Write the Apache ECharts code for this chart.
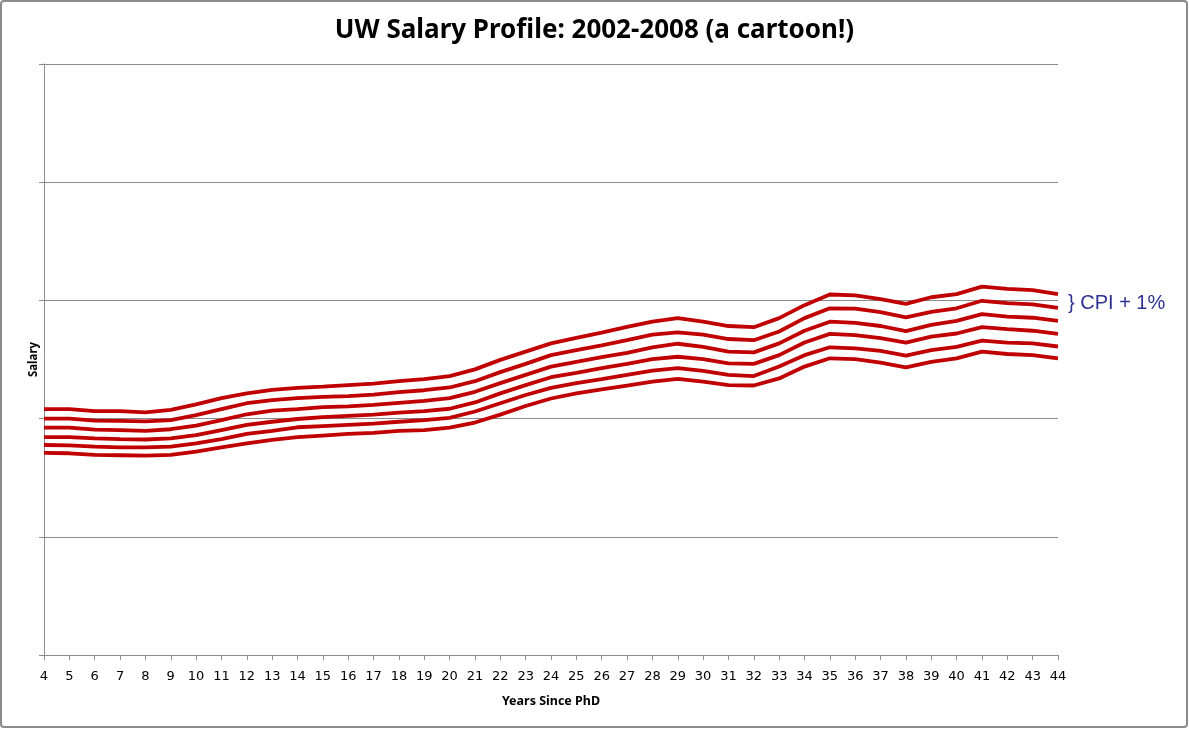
<!DOCTYPE html>
<html>
<head>
<meta charset="utf-8">
<script src="https://cdn.jsdelivr.net/npm/echarts@6/dist/echarts.min.js"></script>
<style>
  html, body { margin: 0; padding: 0; background: #fff; }
  #chart { width: 1189px; height: 729px; }
</style>
</head>
<body>
<div id="chart"></div>
<script>
// years since PhD (x axis)
const years = [];
for (let y = 4; y <= 44; y++) years.push(y);

// salary profiles, thousands (top line first)
const line1 = [62.4, 62.4, 61.9, 61.9, 61.6, 62.2, 63.6, 65.2, 66.4, 67.3, 67.8, 68.1, 68.5, 68.9, 69.5, 70.0, 70.8, 72.5, 74.9, 77.0, 79.1,
  80.5, 81.8, 83.3, 84.6, 85.5, 84.6, 83.5, 83.2, 85.5, 88.8, 91.5, 91.3, 90.3, 89.1, 90.8, 91.6, 93.5, 92.9, 92.6, 91.6];
const line2 = [60.0, 60.0, 59.5, 59.4, 59.3, 59.6, 60.9, 62.4, 63.9, 64.7, 65.2, 65.5, 65.7, 66.1, 66.7, 67.2, 67.9, 69.5, 71.8, 73.9, 76.1,
  77.4, 78.6, 79.9, 81.3, 81.9, 81.3, 80.2, 79.9, 82.1, 85.5, 88.0, 87.9, 87.0, 85.7, 87.1, 88.0, 89.9, 89.3, 89.0, 88.1];
const line3 = [57.7, 57.7, 57.2, 57.1, 56.9, 57.3, 58.2, 59.6, 61.1, 62.0, 62.4, 62.9, 63.1, 63.5, 64.0, 64.5, 65.2, 66.8, 69.0, 71.1, 73.2,
  74.4, 75.6, 76.7, 78.1, 79.0, 78.2, 77.0, 76.8, 79.1, 82.3, 84.6, 84.3, 83.5, 82.2, 83.8, 84.8, 86.5, 85.9, 85.6, 84.8];
const line4 = [55.3, 55.3, 55.0, 54.8, 54.7, 55.0, 55.8, 57.1, 58.4, 59.2, 59.9, 60.4, 60.7, 61.0, 61.5, 61.9, 62.5, 64.1, 66.4, 68.5, 70.5,
  71.6, 72.8, 73.9, 75.1, 75.7, 75.1, 74.0, 73.9, 76.1, 79.3, 81.5, 81.2, 80.4, 79.3, 80.8, 81.6, 83.2, 82.7, 82.3, 81.5];
const line5 = [53.3, 53.2, 52.9, 52.7, 52.7, 52.9, 53.7, 54.8, 56.1, 56.9, 57.8, 58.1, 58.4, 58.7, 59.2, 59.6, 60.2, 61.8, 63.9, 66.0, 67.8,
  69.0, 70.0, 71.1, 72.2, 72.8, 72.1, 71.1, 70.8, 73.2, 76.1, 78.1, 77.8, 77.2, 76.0, 77.4, 78.2, 79.8, 79.3, 79.1, 78.3];
const line6 = [51.3, 51.2, 50.8, 50.7, 50.6, 50.8, 51.6, 52.7, 53.7, 54.6, 55.3, 55.7, 56.1, 56.4, 56.9, 57.1, 57.7, 59.0, 61.0, 63.2, 65.1,
  66.4, 67.4, 68.4, 69.4, 70.1, 69.4, 68.5, 68.4, 70.2, 73.2, 75.3, 75.1, 74.2, 73.0, 74.4, 75.3, 77.0, 76.4, 76.1, 75.3];

const profiles = [line1, line2, line3, line4, line5, line6];

const chart = echarts.init(document.getElementById('chart'));

const grey = '#8c8c8c';

const option = {
  backgroundColor: '#fff',
  animation: false,
  title: {
    text: 'UW Salary Profile: 2002-2008 (a cartoon!)',
    left: 'center',
    top: 13,
    textStyle: { fontFamily: 'Noto Sans', fontWeight: 'bold', fontSize: 26, color: '#000' }
  },
  grid: { left: 44, right: 131, top: 64, bottom: 74 },
  xAxis: {
    type: 'value',
    min: 4,
    max: 44,
    interval: 1,
    name: 'Years Since PhD',
    nameLocation: 'middle',
    nameGap: 40,
    nameTextStyle: { fontFamily: 'Noto Sans', fontWeight: 'bold', fontSize: 12.5, color: '#000' },
    axisLine: { lineStyle: { color: grey, width: 1 } },
    axisTick: { show: true, length: 5, lineStyle: { color: grey } },
    axisLabel: { fontFamily: 'DejaVu Sans', fontSize: 13, color: '#000', margin: 15 },
    splitLine: { show: false }
  },
  yAxis: {
    type: 'value',
    min: 0,
    max: 150,
    interval: 30,
    name: 'Salary',
    nameLocation: 'middle',
    nameGap: 4,
    nameTextStyle: { fontFamily: 'Noto Sans', fontWeight: 'bold', fontSize: 11.5, color: '#000' },
    axisLine: { show: true, lineStyle: { color: grey, width: 1 } },
    axisTick: { show: true, length: 5, lineStyle: { color: grey } },
    axisLabel: { show: false },
    splitLine: { lineStyle: { color: grey, width: 1 } }
  },
  graphic: [
    {
      type: 'rect',
      shape: { x: 1, y: 1, width: 1186, height: 726, r: 3 },
      style: { fill: 'none', stroke: '#8a8a8a', lineWidth: 2 },
      silent: true
    },
    {
      type: 'text',
      left: 1068,
      top: 293,
      style: {
        text: '} CPI + 1%',
        fill: '#2e3192',
        font: '20px "Liberation Sans"'
      }
    }
  ],
  series: profiles.map((d, i) => ({
    name: 'profile ' + (i + 1),
    type: 'line',
    data: years.map((y, j) => [y, d[j]]),
    showSymbol: false,
    symbol: 'none',
    lineStyle: { color: '#c00000', width: 3.8 },
    z: 3
  }))
};

chart.setOption(option);
</script>
</body>
</html>
